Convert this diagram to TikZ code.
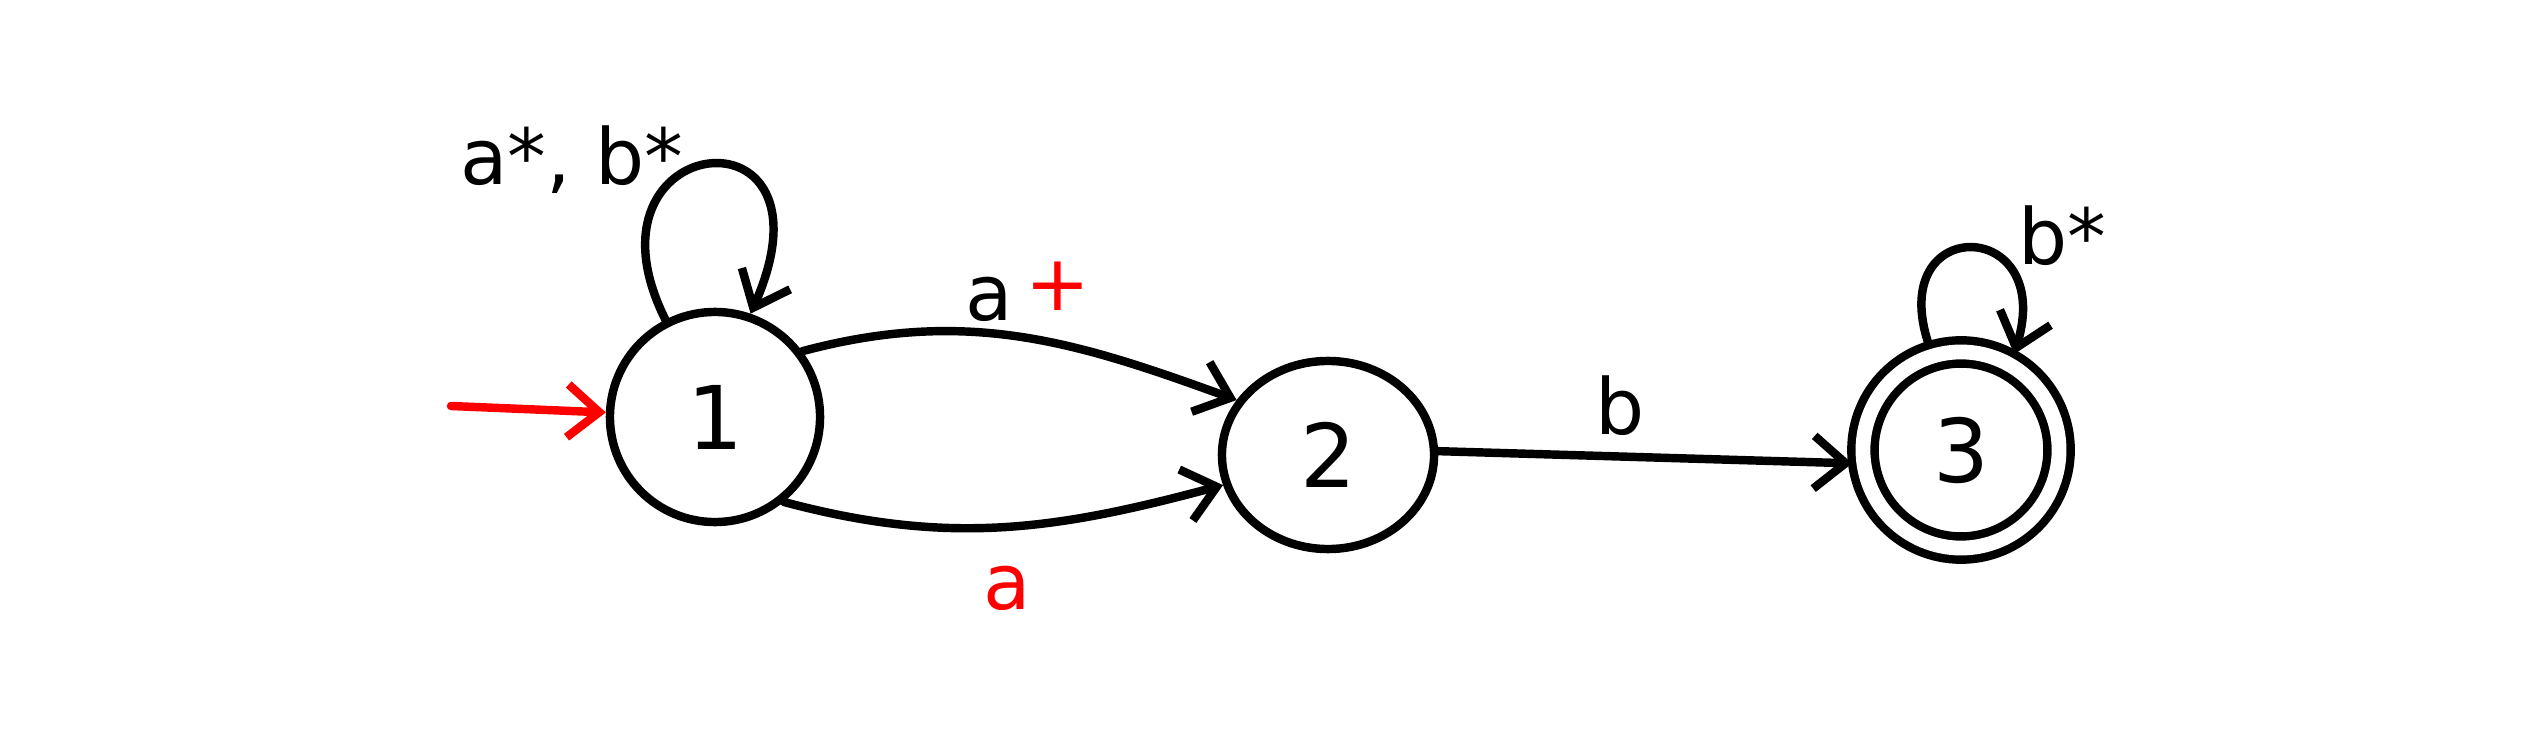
\documentclass[tikz,border=0pt]{standalone}
\usepackage{fontspec}
\setmainfont{DejaVu Sans}
\usetikzlibrary{arrows.meta,shapes.geometric}
\begin{document}
\begin{tikzpicture}[x=0.01cm,y=0.01cm,
  state/.style={draw,circle,line width=2.4pt,inner sep=0pt,font=\fontsize{25}{30}\selectfont},
  lbl/.style={font=\fontsize{22}{26}\selectfont,inner sep=0pt},
  arr/.style={line width=2.4pt,line cap=round,-{Straight Barb[length=9pt,width=15pt,line width=2.4pt]}}]
\fill[white] (0,0) rectangle (2527,-737);
\useasboundingbox (0,0) rectangle (2527,-737);
\node[state,minimum size=2.1cm] (n1) at (715,-417) {1};
\node[state,ellipse,minimum width=2.12cm,minimum height=1.88cm] (n2) at (1328,-455) {2};
\node[state,double,double distance=4.2pt,outer sep=3.3pt,minimum size=1.96cm] (n3) at (1961,-450) {3};
\coordinate (init) at (451,-406);
\draw[arr,red] (init) -- (n1);
\draw[arr] (n1.117) .. controls +(-95,190) and +(95,215) .. (n1.71);
\node[lbl] (l1) at (572,-160) {a*, b*};
\draw[arr] (n1.37) to[out=15,in=160] (n2.149);
\node[lbl] (l2) at (1028,-292) {a\,{\color{red}\raisebox{3pt}{+}}};
\draw[arr] (n1.309) to[out=-15,in=195] (n2.196);
\node[lbl,text=red] (l3) at (1007,-588) {a};
\draw[arr] (n2.2) -- (n3.187);
\node[lbl] (l4) at (1620,-406) {b};
\draw[arr] (n3.107) .. controls +(-45,132) and +(42,138) .. (n3.61);
\node[lbl] (l5) at (2062,-236) {b*};
\end{tikzpicture}
\end{document}
